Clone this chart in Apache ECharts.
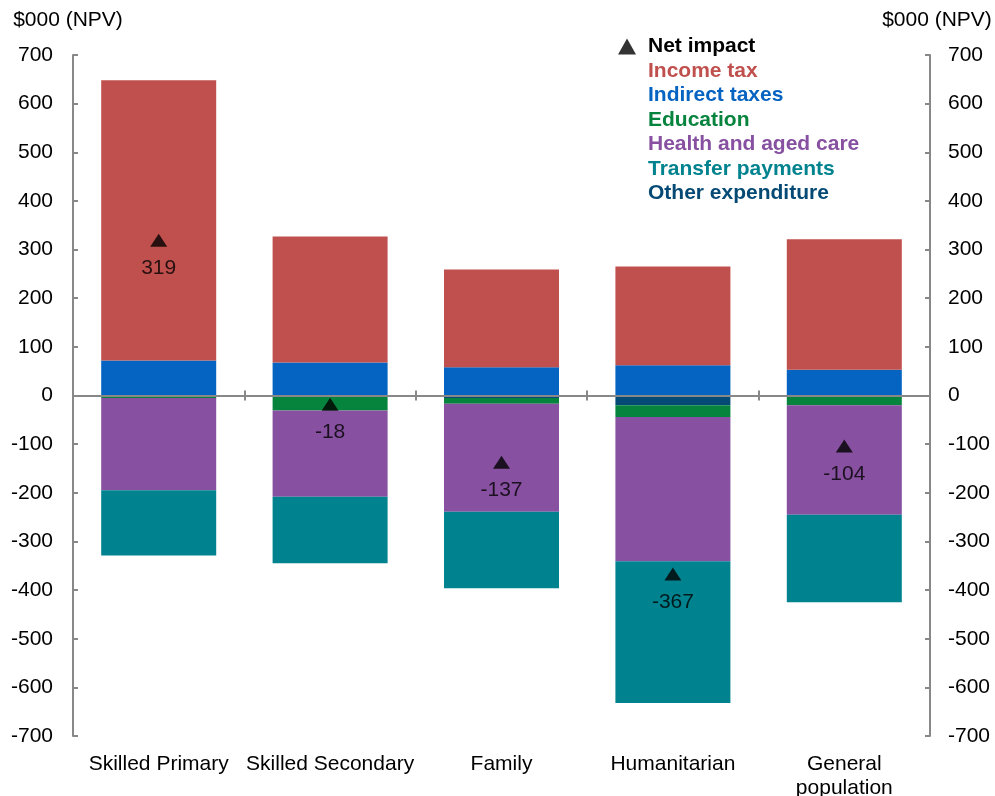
<!DOCTYPE html>
<html>
<head>
<meta charset="utf-8">
<script src="https://cdn.jsdelivr.net/npm/echarts@6/dist/echarts.min.js"></script>
<style>
  html, body { margin: 0; padding: 0; background: #fff; }
  #chart { width: 995px; height: 796px; }
</style>
</head>
<body>
<div id="chart"></div>
<script>
const categories = ['Skilled Primary', 'Skilled Secondary', 'Family', 'Humanitarian', 'General\npopulation']
const incomeTax = [576, 259, 201, 203, 268]
const indirectTaxes = [72, 68, 58, 62, 53]
const otherExpenditure = [0, -2, -5, -20, 0]
const education = [-5, -29, -12, -24, -20]
const healthAgedCare = [-190, -177, -222, -297, -225]
const transferPayments = [-134, -137, -157, -291, -180]
const netImpact = [319, -18, -137, -367, -104]
const yTicks = { min: -700, max: 700, interval: 100 }

const colors = {
  income: '#C0504D',
  indirect: '#0563C1',
  education: '#06843E',
  health: '#8750A0',
  transfer: '#00838F',
  other: '#044A75',
}

const chart = echarts.init(document.getElementById('chart'))

const font = 'Liberation Sans, Arial, sans-serif'
const axisGray = '#888888'

const bar = (name, data, color) => ({
  name,
  type: 'bar',
  stack: 'total',
  data,
  barWidth: 115,
  itemStyle: { color },
  emphasis: { disabled: true },
})

const yAxisBase = {
  type: 'value',
  min: yTicks.min,
  max: yTicks.max,
  interval: yTicks.interval,
  name: '$000 (NPV)',
  nameLocation: 'end',
  nameGap: 24,
  axisLine: { show: true, lineStyle: { color: axisGray, width: 2 } },
  axisTick: { show: true, inside: true, length: 5, lineStyle: { color: axisGray, width: 2 } },
  axisLabel: { color: '#000', fontSize: 21, fontFamily: font, margin: 20 },
  splitLine: { show: false },
}

const option = {
  backgroundColor: '#fff',
  animation: false,
  grid: { left: 73, right: 65, top: 55, bottom: 60, containLabel: false, outerBoundsMode: 'none' },
  legend: {
    orient: 'vertical',
    left: 613,
    top: 31,
    itemWidth: 18,
    itemHeight: 16,
    itemGap: 3.5,
    textStyle: { fontSize: 21, fontWeight: 'bold', fontFamily: font, padding: [0, 0, 0, 7] },
    selectedMode: false,
    data: [
      { name: 'Net impact', icon: 'triangle', itemStyle: { color: '#000' }, textStyle: { color: '#000' } },
      { name: 'Income tax', itemStyle: { opacity: 0 }, textStyle: { color: colors.income } },
      { name: 'Indirect taxes', itemStyle: { opacity: 0 }, textStyle: { color: colors.indirect } },
      { name: 'Education', itemStyle: { opacity: 0 }, textStyle: { color: colors.education } },
      { name: 'Health and aged care', itemStyle: { opacity: 0 }, textStyle: { color: colors.health } },
      { name: 'Transfer payments', itemStyle: { opacity: 0 }, textStyle: { color: colors.transfer } },
      { name: 'Other expenditure', itemStyle: { opacity: 0 }, textStyle: { color: colors.other } },
    ],
  },
  xAxis: [
    {
      type: 'category',
      data: categories,
      position: 'bottom',
      axisLine: { show: false, onZero: false },
      axisTick: { show: false },
      axisLabel: { interval: 0, color: '#000', fontSize: 21, fontFamily: font, margin: 16, lineHeight: 24 },
    },
    {
      type: 'category',
      data: categories,
      position: 'bottom',
      z: 10,
      axisLine: { show: true, onZero: true, lineStyle: { color: axisGray, width: 2 } },
      axisTick: { show: true, length: 5, lineStyle: { color: axisGray, width: 2 } },
      axisLabel: { show: false },
    },
    {
      type: 'category',
      data: categories,
      position: 'bottom',
      z: 10,
      axisLine: { show: false, onZero: true },
      axisTick: { show: true, inside: true, length: 5, lineStyle: { color: axisGray, width: 2 } },
      axisLabel: { show: false },
    },
  ],
  yAxis: [
    {
      ...yAxisBase,
      position: 'left',
      nameTextStyle: { color: '#000', fontSize: 21, fontFamily: font, padding: [0, 10, 0, 0] },
    },
    {
      ...yAxisBase,
      position: 'right',
      nameTextStyle: { color: '#000', fontSize: 21, fontFamily: font, padding: [0, 0, 0, 14] },
      axisLabel: { ...yAxisBase.axisLabel, margin: 18 },
    },
  ],
  series: [
    bar('Indirect taxes', indirectTaxes, colors.indirect),
    bar('Income tax', incomeTax, colors.income),
    bar('Other expenditure', otherExpenditure, colors.other),
    bar('Education', education, colors.education),
    bar('Health and aged care', healthAgedCare, colors.health),
    bar('Transfer payments', transferPayments, colors.transfer),
    {
      name: 'Net impact',
      type: 'scatter',
      data: netImpact,
      symbol: 'triangle',
      symbolSize: [17, 13],
      z: 5,
      itemStyle: { color: '#000' },
      label: {
        show: true,
        position: 'bottom',
        distance: 11,
        color: '#000',
        fontSize: 21,
        fontFamily: font,
      },
      emphasis: { disabled: true },
    },
  ],
}

chart.setOption(option)
</script>
</body>
</html>
